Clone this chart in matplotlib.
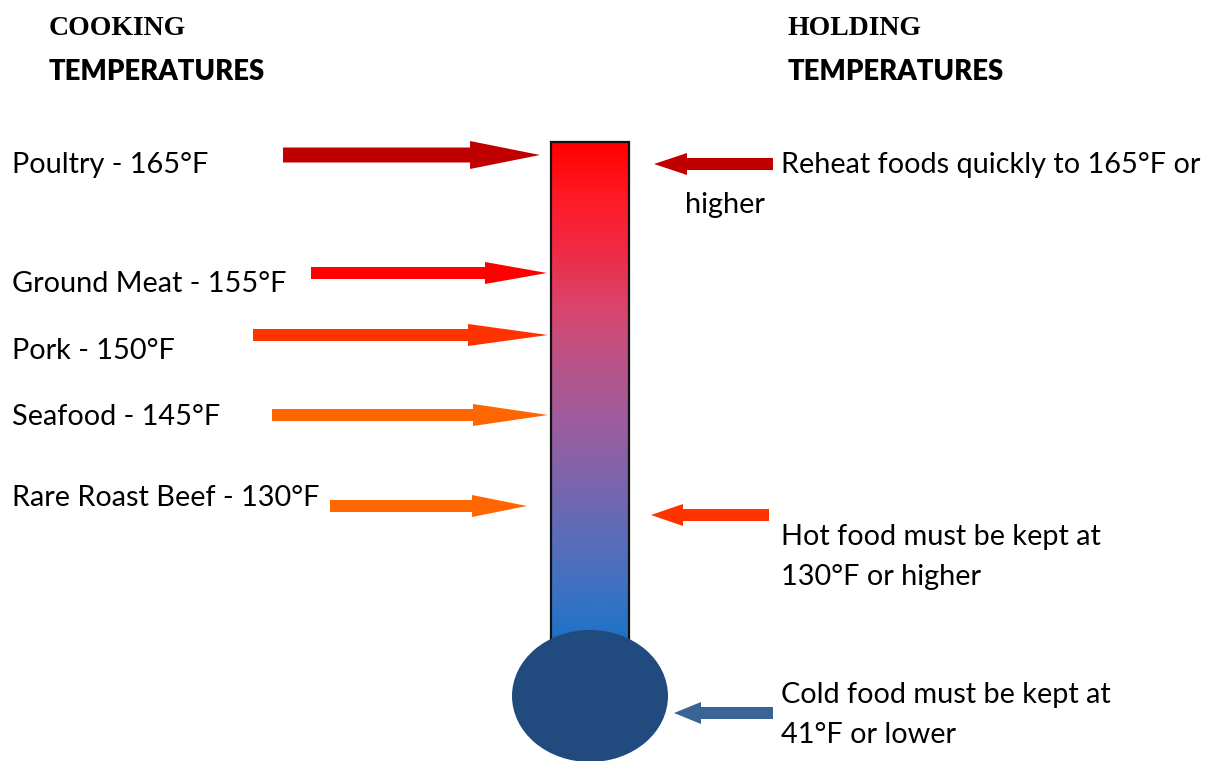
import matplotlib
matplotlib.use("Agg")
import matplotlib.pyplot as plt
import numpy as np
from matplotlib.colors import LinearSegmentedColormap
from matplotlib.patches import Rectangle, Ellipse, FancyArrow

# ---- data ----
cooking_labels = ["Poultry - 165°F", "Ground Meat - 155°F", "Pork - 150°F",
                  "Seafood - 145°F", "Rare Roast Beef - 130°F"]
cooking_colors = ["#C00000", "#FF0000", "#FF3300", "#FF6600", "#FF6600"]
holding_lines = [["Reheat foods quickly to 165°F or", "higher"],
                 ["Hot food must be kept at", "130°F or higher"],
                 ["Cold food must be kept at", "41°F or lower"]]
holding_colors = ["#C00000", "#FF3300", "#3A6496"]
headers = [["COOKING", "TEMPERATURES"], ["HOLDING", "TEMPERATURES"]]
tube_stops = ["#FF0000", "#FF1A26", "#EE2C48", "#D8466E", "#B8548A", "#9E5C9E",
              "#7E64AC", "#5E6CB8", "#3E72C2", "#1A72C8"]

# ---- layout (pixel coordinates) ----
W, H = 1210, 761
fig = plt.figure(figsize=(W / 100, H / 100), dpi=100)
ax = fig.add_axes([0, 0, 1, 1])
ax.set_xlim(0, W)
ax.set_ylim(H, 0)
ax.axis("off")

SANS = ["Lato", "DejaVu Sans"]
SERIF = ["Liberation Serif", "DejaVu Serif"]
FS = 20.8

# headers
for (top, bottom), x in zip(headers, [49, 788]):
    ax.text(x, 35, top, fontsize=20, fontweight="bold", family=SERIF, va="baseline", ha="left")
    ax.text(x, 80, bottom, fontsize=19.8, fontweight="heavy", family=SANS, va="baseline", ha="left")

# thermometer tube with gradient
tx0, tx1, ty0, ty1 = 551, 629, 142, 645
cmap = LinearSegmentedColormap.from_list("tube", tube_stops)
grad = np.linspace(0, 1, 256).reshape(-1, 1)
ax.imshow(grad, cmap=cmap, aspect="auto", extent=(tx0, tx1, ty1, ty0), zorder=1)
ax.add_patch(Rectangle((tx0, ty0), tx1 - tx0, ty1 - ty0, fill=False,
                       edgecolor="#111111", linewidth=1.6, zorder=2))
# bulb
ax.add_patch(Ellipse((590, 696), 156, 132, facecolor="#214A7E", edgecolor="none", zorder=3))

# cooking arrows (pointing right)
ck_y = [155, 273, 335, 415, 506]
ck_x0 = [283, 311, 253, 272, 330]
ck_x1 = [540, 547, 548, 548, 527]
ck_head_len = [70, 62, 80, 75, 55]
ck_shaft = [15, 12, 12, 12, 12]
ck_head = [28, 22, 22, 22, 22]
ck_text_y = [173, 292, 359, 425, 506]
for lab, c, y, x0, x1, hl, sw, hw, tyb in zip(cooking_labels, cooking_colors, ck_y, ck_x0,
                                               ck_x1, ck_head_len, ck_shaft, ck_head, ck_text_y):
    ax.add_patch(FancyArrow(x0, y, x1 - x0, 0, width=sw, head_width=hw, head_length=hl,
                            length_includes_head=True, color=c, linewidth=0, zorder=4))
    ax.text(12, tyb, lab, fontsize=FS, family=SANS, va="baseline", ha="left")

# holding arrows (pointing left)
hd_y = [164, 515, 713]
hd_x0 = [773, 769, 773]
hd_x1 = [654, 651, 674]
hd_head_len = [33, 32, 27]
hd_text = [(781, 173, 685, 213), (781, 545, 781, 585), (781, 703, 781, 743)]
for lines, c, y, x0, x1, hl, (xa, ya, xb, yb) in zip(holding_lines, holding_colors, hd_y,
                                                     hd_x0, hd_x1, hd_head_len, hd_text):
    ax.add_patch(FancyArrow(x0, y, x1 - x0, 0, width=12, head_width=22, head_length=hl,
                            length_includes_head=True, color=c, linewidth=0, zorder=4))
    ax.text(xa, ya, lines[0], fontsize=FS, family=SANS, va="baseline", ha="left")
    ax.text(xb, yb, lines[1], fontsize=FS, family=SANS, va="baseline", ha="left")

fig.savefig("out.png", dpi=100, facecolor="white")
